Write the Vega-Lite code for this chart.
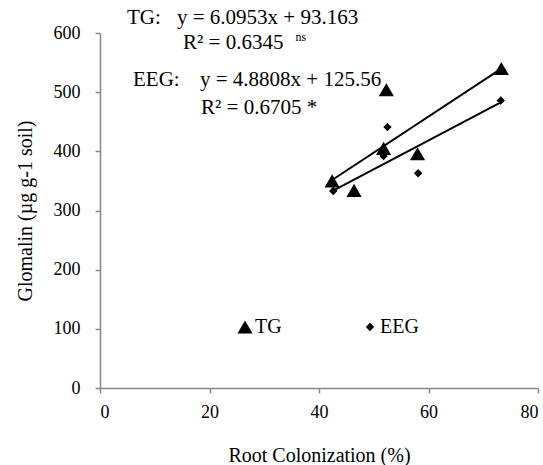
{
  "$schema": "https://vega.github.io/schema/vega-lite/v6.json",
  "width": 438,
  "height": 355,
  "autosize": {"type": "none"},
  "padding": {"left": 100, "top": 33, "right": 5, "bottom": 77},
  "background": "white",
  "config": {
    "view": {"stroke": null},
    "font": "Liberation Serif",
    "axis": {
      "grid": false,
      "domainColor": "#878787",
      "domainWidth": 1.5,
      "tickColor": "#878787",
      "tickWidth": 1.5,
      "tickSize": 5,
      "labelFont": "Liberation Serif",
      "labelFontSize": 18,
      "labelColor": "#000000",
      "titleFont": "Liberation Serif",
      "titleFontSize": 20,
      "titleFontWeight": "normal",
      "titleColor": "#000000"
    },
    "legend": {
      "labelFont": "Liberation Serif"
    }
  },
  "datasets": {
    "points": [
      {"rc": 73.3, "glomalin": 540, "series": "TG"},
      {"rc": 52.3, "glomalin": 504, "series": "TG"},
      {"rc": 51.8, "glomalin": 405, "series": "TG"},
      {"rc": 58.0, "glomalin": 396, "series": "TG"},
      {"rc": 42.4, "glomalin": 350, "series": "TG"},
      {"rc": 46.4, "glomalin": 334, "series": "TG"},
      {"rc": 73.2, "glomalin": 486, "series": "EEG"},
      {"rc": 52.5, "glomalin": 441, "series": "EEG"},
      {"rc": 51.8, "glomalin": 392, "series": "EEG"},
      {"rc": 58.1, "glomalin": 363, "series": "EEG"},
      {"rc": 42.6, "glomalin": 333, "series": "EEG"},
      {"rc": 46.4, "glomalin": 329, "series": "EEG"}
    ],
    "fits": [
      {"rc": 42.4, "glomalin": 351.6, "series": "TG"},
      {"rc": 73.3, "glomalin": 539.9, "series": "TG"},
      {"rc": 42.6, "glomalin": 333.5, "series": "EEG"},
      {"rc": 73.2, "glomalin": 482.8, "series": "EEG"}
    ],
    "labels": [
      {"rc": 4.93, "glomalin": 625, "label": "TG:"},
      {"rc": 14.06, "glomalin": 625, "label": "y = 6.0953x + 93.163"},
      {"rc": 15.16, "glomalin": 583, "label": "R² = 0.6345"},
      {"rc": 6.03, "glomalin": 520.5, "label": "EEG:"},
      {"rc": 18.26, "glomalin": 520.5, "label": "y = 4.8808x + 125.56"},
      {"rc": 18.45, "glomalin": 473, "label": "R² = 0.6705 *"}
    ],
    "sup": [
      {"rc": 35.7, "glomalin": 594, "label": "ns"}
    ]
  },
  "layer": [
    {
      "data": {"name": "fits"},
      "mark": {"type": "line", "color": "black", "strokeWidth": 2},
      "encoding": {
        "x": {"field": "rc", "type": "quantitative"},
        "y": {"field": "glomalin", "type": "quantitative"},
        "detail": {"field": "series"}
      }
    },
    {
      "data": {"name": "points"},
      "mark": {"type": "point", "filled": true, "opacity": 1, "color": "black"},
      "encoding": {
        "x": {
          "field": "rc", "type": "quantitative",
          "scale": {"domain": [0, 80], "nice": false, "zero": true},
          "axis": {"values": [0, 20, 40, 60, 80], "title": "Root Colonization (%)", "labelPadding": 10, "titlePadding": 24}
        },
        "y": {
          "field": "glomalin", "type": "quantitative",
          "scale": {"domain": [0, 600], "nice": false},
          "axis": {"values": [0, 100, 200, 300, 400, 500, 600], "title": "Glomalin (µg g-1 soil)", "labelPadding": 15, "titlePadding": 18}
        },
        "shape": {
          "field": "series", "type": "nominal",
          "scale": {"domain": ["TG", "EEG"], "range": ["triangle-up", "diamond"]},
          "legend": {
            "title": null,
            "orient": "none",
            "legendX": 135,
            "legendY": 284,
            "direction": "horizontal",
            "labelFont": "Liberation Serif",
            "labelFontSize": 20,
            "labelColor": "black",
            "symbolFillColor": "black",
            "symbolStrokeColor": "black",
            "symbolOpacity": 1,
            "labelOffset": 0,
            "columnPadding": 78
          }
        },
        "size": {
          "field": "series", "type": "nominal",
          "scale": {"domain": ["TG", "EEG"], "range": [230, 70]}
        }
      }
    },
    {
      "data": {"name": "labels"},
      "mark": {"type": "text", "align": "left", "baseline": "middle", "fontSize": 21, "font": "Liberation Serif", "color": "black"},
      "encoding": {
        "x": {"field": "rc", "type": "quantitative"},
        "y": {"field": "glomalin", "type": "quantitative"},
        "text": {"field": "label"}
      }
    },
    {
      "data": {"name": "sup"},
      "mark": {"type": "text", "align": "left", "baseline": "middle", "fontSize": 12, "font": "Liberation Serif", "color": "black"},
      "encoding": {
        "x": {"field": "rc", "type": "quantitative"},
        "y": {"field": "glomalin", "type": "quantitative"},
        "text": {"field": "label"}
      }
    }
  ]
}
